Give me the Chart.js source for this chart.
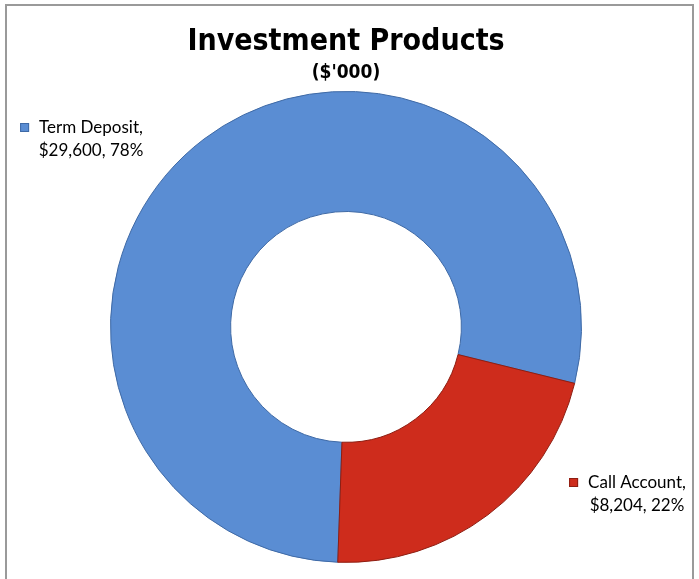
<!DOCTYPE html>
<html>
<head>
<meta charset="utf-8">
<script src="https://cdn.jsdelivr.net/npm/chart.js@4.4.1/dist/chart.umd.min.js"></script>
<style>
  html, body { margin: 0; padding: 0; background: #ffffff; }
  #wrap { position: relative; width: 699px; height: 579px; }
</style>
</head>
<body>
<div id="wrap"><canvas id="c" width="699" height="579"></canvas></div>
<script>
// ---- data ----
const categories = ['Term Deposit', 'Call Account'];
const amounts = [29600, 8204];
const sliceColors = ['#5A8DD3', '#CE2C1C'];
const edgeColors = ['#3F6AA6', '#8E1E12'];
const titleText = 'Investment Products';
const subtitleText = "($'000)";

const total = amounts.reduce((a, b) => a + b, 0);
function fmtMoney(v) { return '$' + v.toLocaleString('en-US'); }
function fmtPct(v) { return Math.round(v / total * 100) + '%'; }

// label anchors (layout only): centre x of text block, y of first line
const labelAnchors = [
  { cx: 91, y1: 128 },
  { cx: 637, y1: 483 }
];

const frameAndLabels = {
  id: 'frameAndLabels',
  beforeDraw(chart) {
    const ctx = chart.ctx;
    ctx.save();
    ctx.fillStyle = '#ffffff';
    ctx.fillRect(0, 0, chart.width, chart.height);
    ctx.strokeStyle = '#9a9a9a';
    ctx.lineWidth = 2;
    ctx.strokeRect(6, 5, 687, 600);
    ctx.restore();
  },
  afterDraw(chart) {
    const ctx = chart.ctx;
    ctx.save();
    ctx.font = '17px Lato, "Open Sans", sans-serif';
    ctx.fillStyle = '#000000';
    ctx.textBaseline = 'middle';
    ctx.textAlign = 'center';
    const lh = 23;
    categories.forEach((cat, i) => {
      const a = labelAnchors[i];
      const l1 = cat + ',';
      const l2 = fmtMoney(amounts[i]) + ', ' + fmtPct(amounts[i]);
      ctx.fillText(l1, a.cx, a.y1);
      ctx.fillText(l2, a.cx, a.y1 + lh);
      const w1 = ctx.measureText(l1).width;
      const sx = a.cx - w1 / 2 - 19;
      ctx.fillStyle = sliceColors[i];
      ctx.fillRect(sx, a.y1 - 5, 9, 9);
      ctx.strokeStyle = edgeColors[i];
      ctx.lineWidth = 1;
      ctx.strokeRect(sx + 0.5, a.y1 - 4.5, 8, 8);
      ctx.fillStyle = '#000000';
    });
    ctx.restore();
  }
};

new Chart(document.getElementById('c'), {
  type: 'doughnut',
  data: {
    labels: categories,
    datasets: [{
      data: amounts,
      backgroundColor: sliceColors,
      borderColor: edgeColors,
      borderWidth: 1
    }]
  },
  options: {
    responsive: false,
    animation: false,
    rotation: 182,
    cutout: '49%',
    layout: { padding: { left: 110, right: 117, top: 0, bottom: 10 } },
    plugins: {
      legend: { display: false },
      tooltip: { enabled: false },
      title: {
        display: true,
        text: titleText,
        color: '#000000',
        font: { family: '"DejaVu Sans Condensed", sans-serif', size: 30, weight: 'bold' },
        padding: { top: 24, bottom: 0 }
      },
      subtitle: {
        display: true,
        text: subtitleText,
        color: '#000000',
        font: { family: '"DejaVu Sans Condensed", sans-serif', size: 19, weight: 'bold' },
        padding: { top: 2, bottom: 0 }
      }
    }
  },
  plugins: [frameAndLabels]
});
</script>
</body>
</html>
